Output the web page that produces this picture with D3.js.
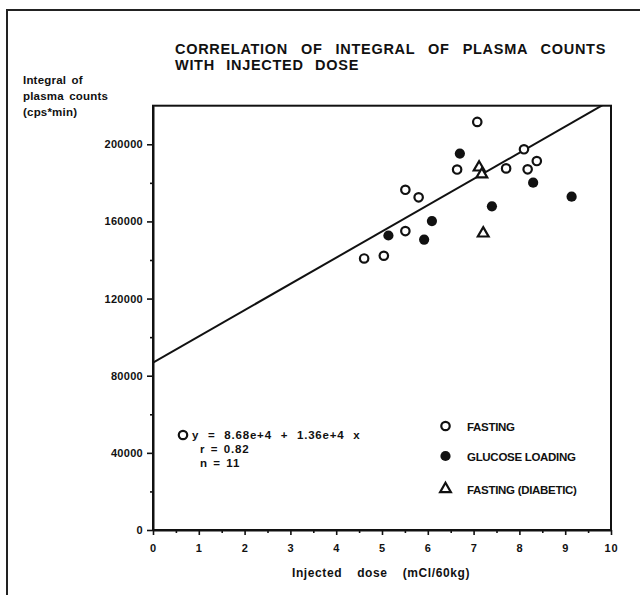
<!DOCTYPE html>
<html><head><meta charset="utf-8">
<script src="https://cdn.jsdelivr.net/npm/d3@7"></script>
<style>
body{margin:0;background:#fff}
text{font-family:"Liberation Sans",Arial,Helvetica,sans-serif;font-weight:bold;fill:#111}
</style>
</head><body>
<svg id="c" width="640" height="595"></svg>
<script>
// ---- data ----
const fastingDose   = [4.61, 5.04, 5.51, 5.51, 5.80, 6.64, 7.08, 7.71, 8.10, 8.18, 8.38];
const fastingCounts = [140800, 142200, 176400, 155000, 172500, 186900, 211600, 187500, 197400, 187000, 191300];
const glucoseDose   = [5.14, 5.92, 6.09, 6.70, 7.40, 8.30, 9.14];
const glucoseCounts = [152700, 150600, 160200, 195200, 167800, 180100, 172800];
const diabeticDose   = [7.12, 7.18, 7.21];
const diabeticCounts = [188000, 184400, 153800];
const fitIntercept = 86800;
const fitSlope = 13600;
const xTicks = [0,1,2,3,4,5,6,7,8,9,10];
const xMinorTicks = [0.5,1.5,2.5,3.5,4.5,5.5,6.5,7.5,8.5,9.5];
const yTicks = [0,40000,80000,120000,160000,200000];
const yMinorTicks = [20000,60000,100000,140000,180000];
const titleLines = ["CORRELATION OF INTEGRAL OF PLASMA COUNTS","WITH INJECTED DOSE"];
const yTitleLines = ["Integral of","plasma counts","(cps*min)"];
const xTitle = "Injected dose (mCl/60kg)";
const legendLabels = ["FASTING","GLUCOSE LOADING","FASTING (DIABETIC)"];
const statsLines = ["y = 8.68e+4 + 1.36e+4 x","r = 0.82","n = 11"];

// ---- drawing ----
const svg = d3.select("#c");
const ink = "#111";
const x = d3.scaleLinear().domain([0,10]).range([153,611]);
const y = d3.scaleLinear().domain([0,220000]).range([530,105.7]);

// fit a text to a target width by widening word gaps
function fitWords(sel, target){
  const n = (sel.text().match(/ /g)||[]).length;
  const w = sel.node().getBBox().width;
  if(n>0 && target>w) sel.attr("word-spacing",((target-w)/n).toFixed(2));
}

// outer frame (top + left)
svg.append("path").attr("d","M7,595 L7,10 L640,10")
  .attr("fill","none").attr("stroke","#222").attr("stroke-width",2);

// title
const tl = [[175,54,431],[175,70,184]];
titleLines.forEach((t,i)=>{
  const s = svg.append("text").attr("x",tl[i][0]).attr("y",tl[i][1])
    .attr("font-size",14.5).style("letter-spacing","0.7px").text(t);
  fitWords(s, tl[i][2]);
});

// y title
yTitleLines.forEach((t,i)=>{
  svg.append("text").attr("x",23).attr("y",84+i*16).attr("font-size",11.5)
    .style("letter-spacing","0.2px").attr("word-spacing",2).text(t);
});

// plot frame
svg.append("rect").attr("x",x(0)).attr("y",y(220000))
  .attr("width",x(10)-x(0)).attr("height",y(0)-y(220000))
  .attr("fill","none").attr("stroke",ink).attr("stroke-width",2);

// axes
function styleAxis(g){
  g.select(".domain").attr("stroke",ink).attr("stroke-width",2);
  g.selectAll(".tick line").attr("stroke",ink).attr("stroke-width",1.6);
  g.selectAll(".tick text").attr("fill",ink).attr("font-family","'Liberation Sans',Arial,sans-serif")
    .attr("font-weight","bold").attr("font-size",11).style("letter-spacing","0.8px");
}
const xAxis = svg.append("g").attr("transform",`translate(0,${y(0)})`)
  .call(d3.axisBottom(x).tickValues(xTicks).tickSize(5).tickSizeOuter(0).tickPadding(7).tickFormat(d3.format("d")));
styleAxis(xAxis);
xAxis.selectAll(".tick text").attr("dy","0.9em");
const xMinor = svg.append("g").attr("transform",`translate(0,${y(0)})`)
  .call(d3.axisBottom(x).tickValues(xMinorTicks).tickSize(3).tickFormat(""));
xMinor.select(".domain").remove();
xMinor.selectAll(".tick line").attr("stroke",ink).attr("stroke-width",1.6);

const yAxis = svg.append("g").attr("transform",`translate(${x(0)},0)`)
  .call(d3.axisLeft(y).tickValues(yTicks).tickSize(6).tickSizeOuter(0).tickPadding(4).tickFormat(d3.format("d")));
styleAxis(yAxis);
yAxis.selectAll(".tick text").style("letter-spacing","0.3px");
const yMinor = svg.append("g").attr("transform",`translate(${x(0)},0)`)
  .call(d3.axisLeft(y).tickValues(yMinorTicks).tickSize(3).tickFormat(""));
yMinor.select(".domain").remove();
yMinor.selectAll(".tick line").attr("stroke",ink).attr("stroke-width",1.6);

// x title
const xt = svg.append("text").attr("x",292).attr("y",577).attr("font-size",12)
  .style("letter-spacing","0.6px").text(xTitle);
fitWords(xt, 178);

// regression line (clipped)
svg.append("clipPath").attr("id","clip").append("rect")
  .attr("x",x(0)).attr("y",y(220000)).attr("width",x(10)-x(0)).attr("height",y(0)-y(220000));
const line = d3.line().x(d=>x(d)).y(d=>y(fitIntercept+fitSlope*d));
svg.append("path").datum([0,10]).attr("d",line).attr("clip-path","url(#clip)")
  .attr("fill","none").attr("stroke",ink).attr("stroke-width",2);

// markers
const openCircle = d3.symbol().type(d3.symbolCircle).size(56)();
const filledCircle = d3.symbol().type(d3.symbolCircle).size(82)();
const triangle = d3.symbol().type(d3.symbolTriangle).size(50)();
function plot(xs, ys, path, filled){
  svg.append("g").selectAll("path").data(xs).join("path")
    .attr("transform",(d,i)=>`translate(${x(d)},${y(ys[i])})`)
    .attr("d",path)
    .attr("fill",filled?ink:"#fff").attr("stroke",ink).attr("stroke-width",filled?0:2.2);
}
plot(fastingDose, fastingCounts, openCircle, false);
plot(glucoseDose, glucoseCounts, filledCircle, true);
plot(diabeticDose, diabeticCounts, triangle, false);

// stats block
svg.append("path").attr("transform","translate(183,435)").attr("d",openCircle)
  .attr("fill","#fff").attr("stroke",ink).attr("stroke-width",2.2);
const st = [[192,439,176],[200,453,null],[200,467,null]];
statsLines.forEach((t,i)=>{
  const tx = svg.append("text").attr("x",st[i][0]).attr("y",st[i][1]).attr("font-size",11.5)
    .style("letter-spacing","0.8px").attr("word-spacing",1.5).text(t);
  if(st[i][2]) fitWords(tx, st[i][2]);
});

// legend
const legendSyms = [[openCircle,false],[filledCircle,true],[triangle,false]];
const ly = [426,456,489];
legendLabels.forEach((t,i)=>{
  svg.append("path").attr("transform",`translate(445.5,${ly[i]})`).attr("d",legendSyms[i][0])
    .attr("fill",legendSyms[i][1]?ink:"#fff").attr("stroke",ink).attr("stroke-width",legendSyms[i][1]?0:2.2);
  svg.append("text").attr("x",467).attr("y",ly[i]+4.5).attr("font-size",11.5)
    .style("letter-spacing","-0.3px").text(t);
});
</script>
</body></html>
